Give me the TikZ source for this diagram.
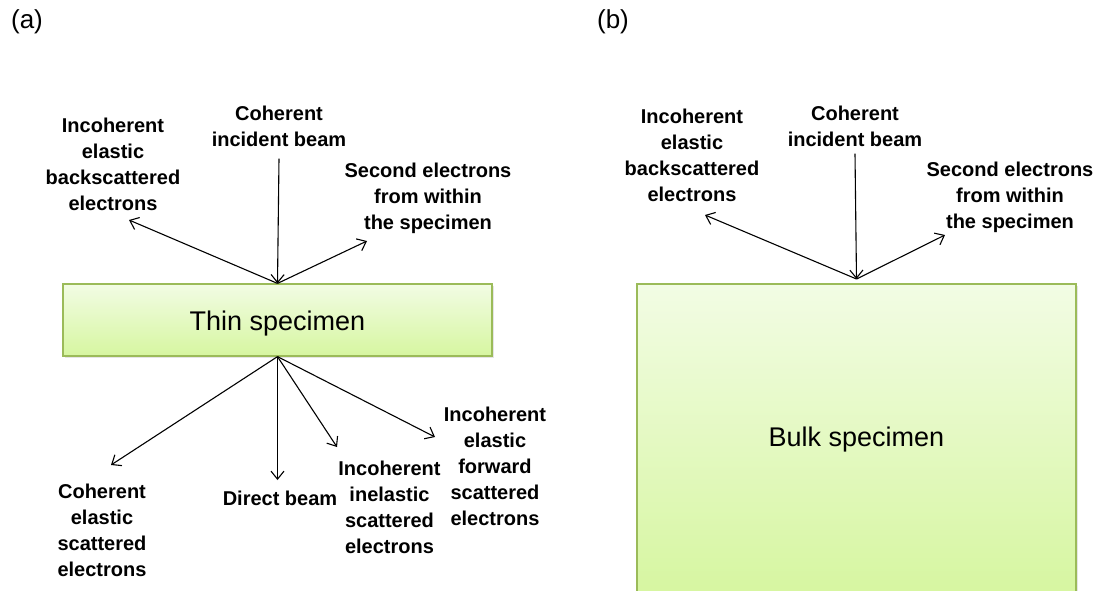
\documentclass[tikz,border=0pt]{standalone}
\usepackage{fontspec}
\setmainfont{Liberation Sans}
\usetikzlibrary{arrows.meta,shadows}
\definecolor{boxedge}{RGB}{155,187,89}
\definecolor{boxtop}{RGB}{242,252,228}
\definecolor{boxbot}{RGB}{214,246,160}
\newcommand{\fl}{\rule{0pt}{15pt}}
\begin{document}
\begin{tikzpicture}[x=1pt,y=-1pt,
  lbl/.style={font=\bfseries\fontsize{20}{26}\selectfont, align=center, inner sep=0pt, anchor=north},
  arr/.style={line width=1.1pt, -{Straight Barb[length=8pt,width=13pt,line width=1.1pt]}},
  spec/.style={draw=boxedge, line width=1.2pt, top color=boxtop, bottom color=boxbot,
    font=\fontsize{27}{32}\selectfont,
    drop shadow={opacity=0.2,shadow xshift=1.5pt,shadow yshift=-2pt}},
  tag/.style={font=\fontsize{26}{30}\selectfont, anchor=base, inner sep=0pt}]
\clip (0,0) rectangle (1101,590);
\fill[white] (0,0) rectangle (1101,590);

% panel tags
\node[tag] (ta) at (27,28) {(a)};
\node[tag] (tb) at (613,28) {(b)};

% specimens
\node[spec, minimum width=429pt, minimum height=72pt, text height=22pt, text depth=1pt] (thin) at (277.5,320) {Thin specimen};
\node[spec, minimum width=439pt, minimum height=312pt] (bulk) at (856.5,440) {Bulk specimen};

% labels (a)
\node[lbl] (incA) at (279,105) {\fl Coherent\\incident beam};
\node[lbl] (bsA) at (113,117) {\fl Incoherent\\elastic\\backscattered\\electrons};
\node[lbl] (seA) at (428,162) {\fl Second electrons\\from within\\the specimen};
\node[lbl] (ceA) at (102,483) {\fl Coherent\\elastic\\scattered\\electrons};
\node[lbl] (dbA) at (280,490) {\fl Direct beam};
\node[lbl] (ieA) at (389.5,460) {\fl Incoherent\\inelastic\\scattered\\electrons};
\node[lbl] (feA) at (495,406) {\fl Incoherent\\elastic\\forward\\scattered\\electrons};

% labels (b)
\node[lbl] (bsB) at (692,108) {\fl Incoherent\\elastic\\backscattered\\electrons};
\node[lbl] (incB) at (855,105) {\fl Coherent\\incident beam};
\node[lbl] (seB) at (1010,161) {\fl Second electrons\\from within\\the specimen};

% arrow ends
\coordinate (bsAt) at (129,220);
\coordinate (seAt) at (367,241);
\coordinate (ceAt) at (111,465);
\coordinate (dbAt) at (277.5,480);
\coordinate (ieAt) at (337,447);
\coordinate (feAt) at (435,437);
\coordinate (hitB) at (856.5,279);
\coordinate (bsBt) at (705,215);
\coordinate (seBt) at (945,235);

% arrows (a)
\draw[arr] ([yshift=-12pt]incA.south) -- (thin.north);
\draw[arr] (thin.north) -- (bsAt);
\draw[arr] (thin.north) -- (seAt);
\draw[arr] (thin.south) -- (ceAt);
\draw[arr] (thin.south) -- (dbAt);
\draw[arr] (thin.south) -- (ieAt);
\draw[arr] (thin.south) -- (feAt);

% arrows (b)
\draw[arr] ([yshift=-7pt]incB.south) -- (hitB);
\draw[arr] (hitB) -- (bsBt);
\draw[arr] (hitB) -- (seBt);
\end{tikzpicture}
\end{document}
